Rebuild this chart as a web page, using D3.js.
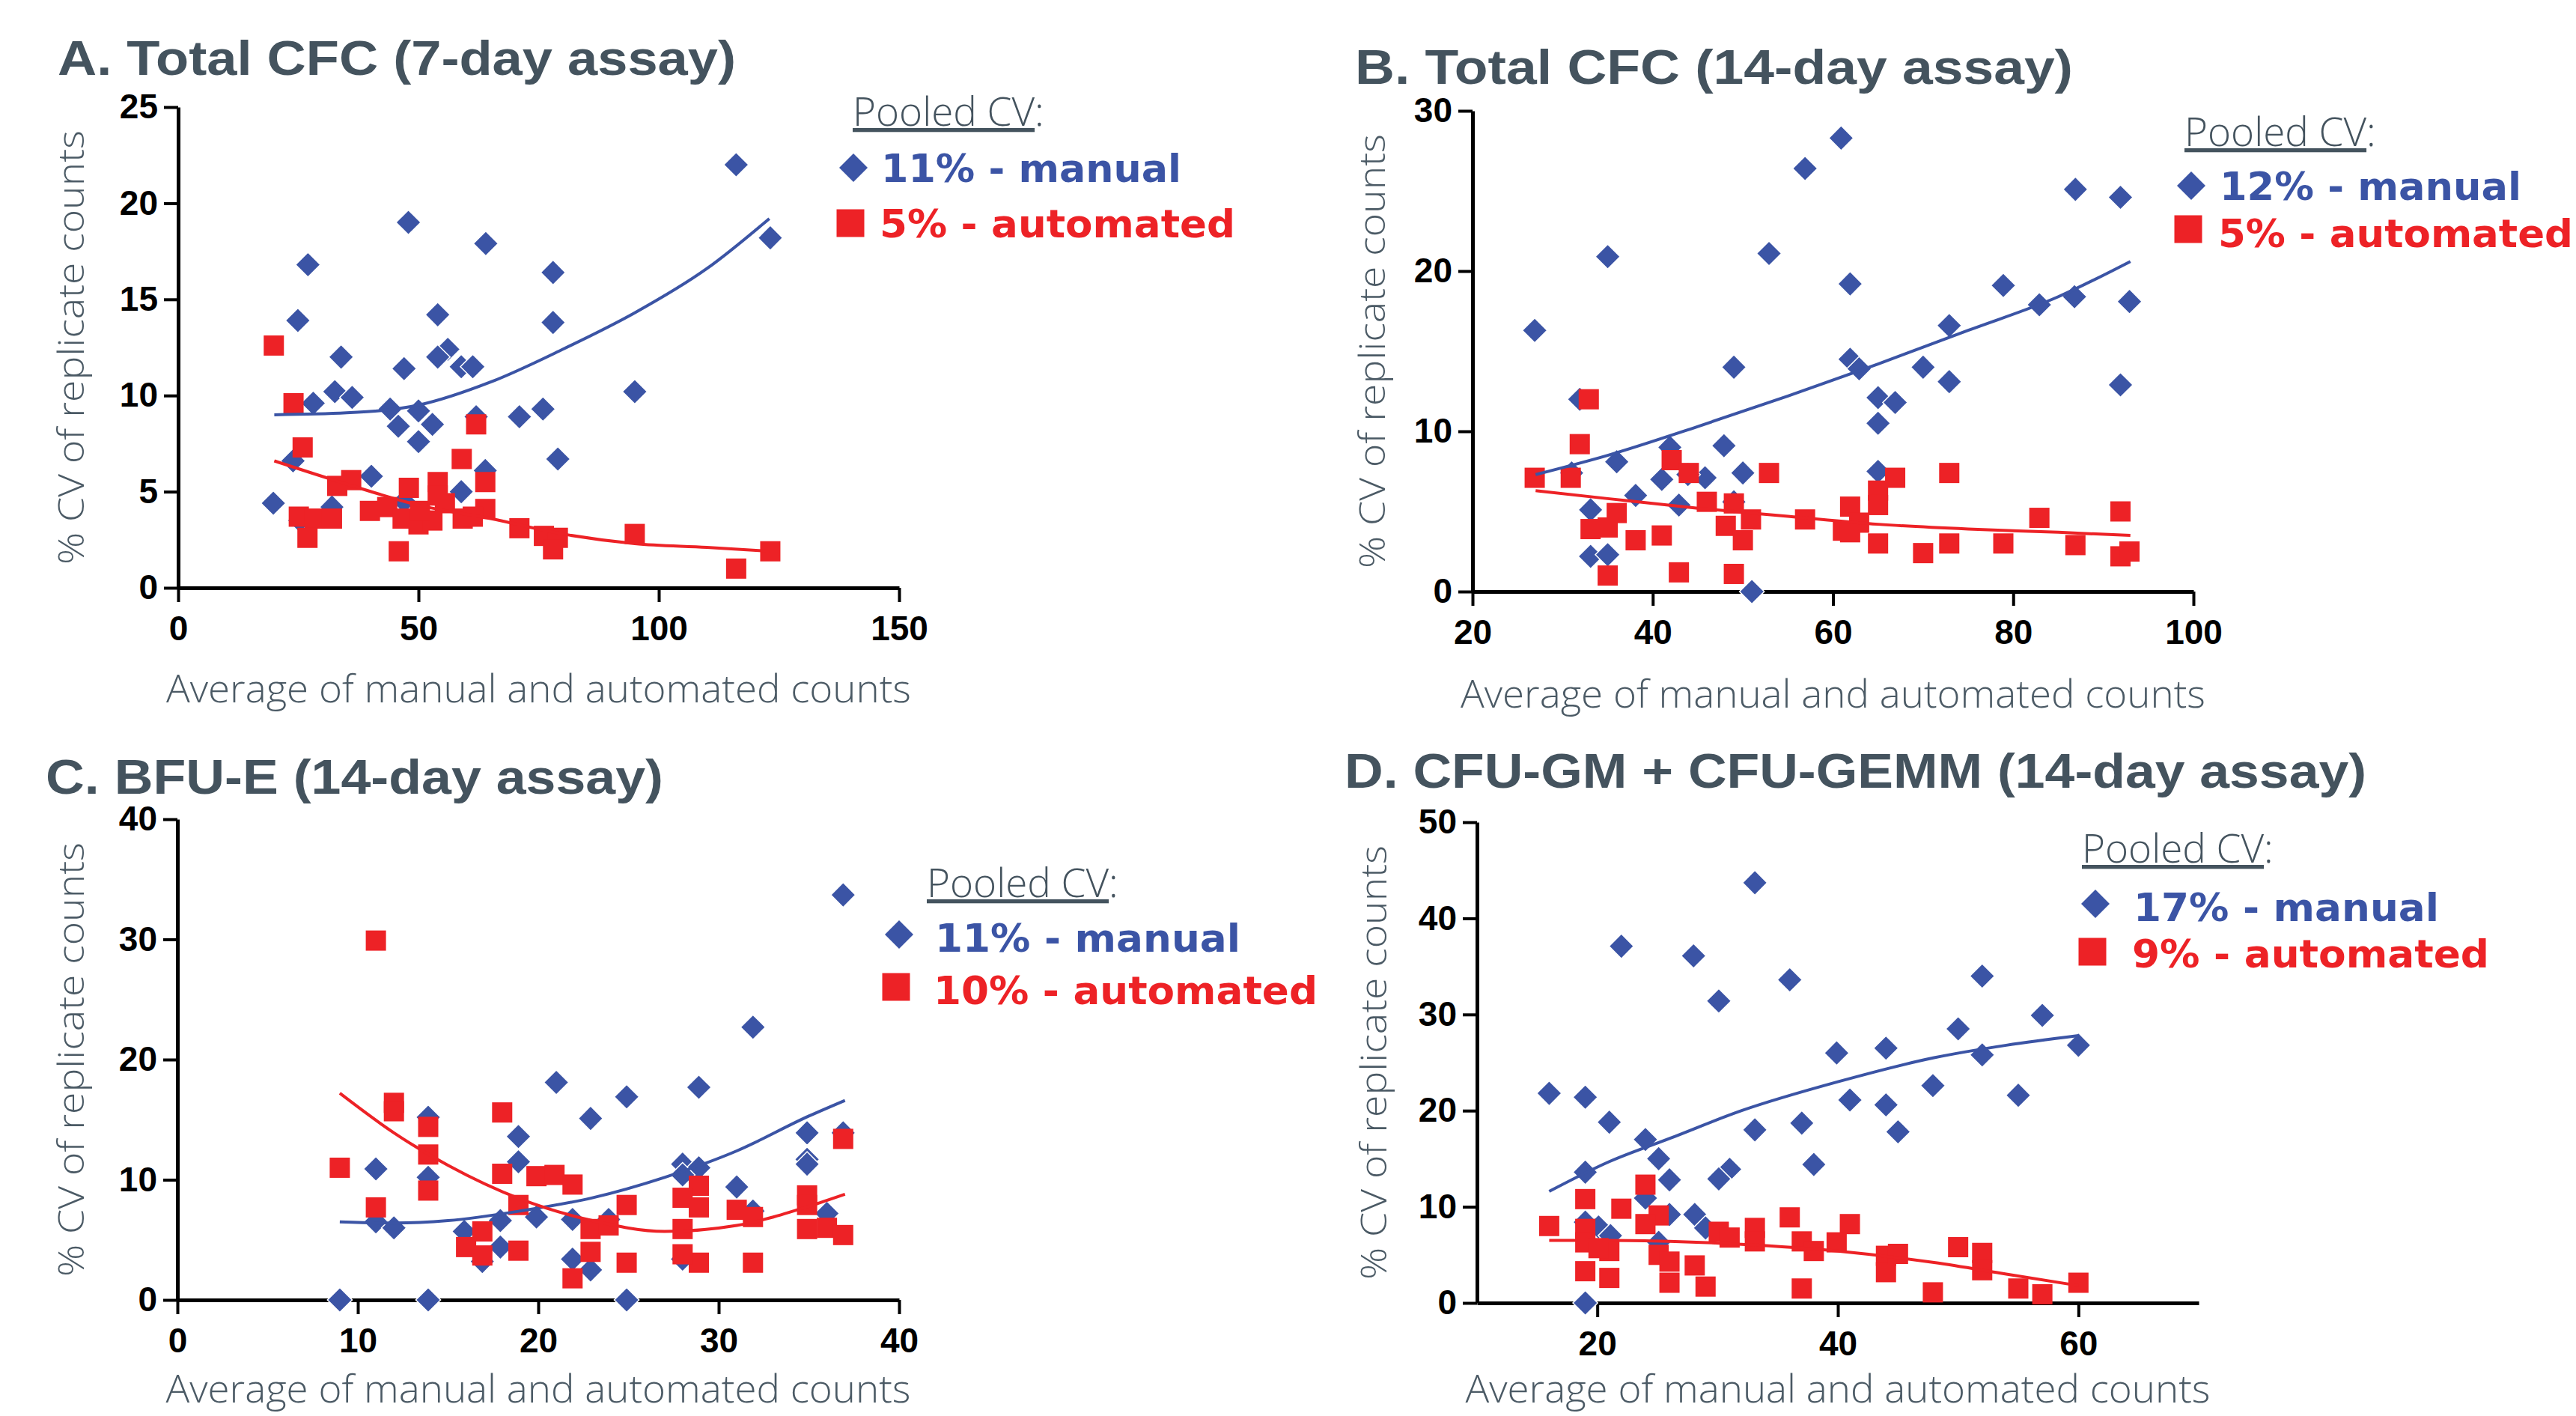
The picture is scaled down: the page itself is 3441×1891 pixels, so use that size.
<!DOCTYPE html>
<html>
<head>
<meta charset="utf-8">
<title>Pooled CV of replicate counts - manual vs automated</title>
<script src="https://cdn.jsdelivr.net/npm/d3@7"></script>
<style>
  body { margin: 0; background: #ffffff; }
  .tick text { font-family: "Liberation Sans Narrow", "Liberation Sans", Arial, sans-serif; font-weight: bold; font-size: 46px; fill: #000; }
  .domain { stroke: #000; stroke-width: 5px; }
  .tick line { stroke: #000; stroke-width: 4px; }
  .ptitle { font-family: "Liberation Sans Narrow", "Liberation Sans", Arial, sans-serif; font-weight: bold; font-size: 64px; fill: #44535e; }
  .alabel { font-family: "Open Sans", Lato, sans-serif; font-weight: 300; font-size: 52px; fill: #4b5a65; }
  .pooled { font-family: "Open Sans", Lato, sans-serif; font-weight: 300; font-size: 53px; fill: #44535e; }
  .legtxt { font-family: "DejaVu Sans", sans-serif; font-weight: bold; font-size: 52px; }
</style>
</head>
<body>
<svg id="chart" width="3441" height="1891"></svg>
<script>
// colours
var BLUE = "#3b54a5", RED = "#ed2226";

// ---- A. Total CFC (7-day assay)
var aManualX = [116.1,123.2,47.9,64.0,27.0,78.0,24.9,54.0,78.0,33.9,56.1,54.0,47.0,58.9,61.3,32.6,36.2,28.1,95.0,44.1,50.0,45.8,52.9,62.0,71.0,75.9,50.0,79.0,23.9,40.2,58.9,63.9,19.8,32.0,47.0,25.3];
var aManualY = [22.0,18.2,19.0,17.9,16.8,16.4,13.9,14.2,13.8,12.0,12.4,12.0,11.4,11.5,11.5,10.2,9.9,9.6,10.2,9.3,9.2,8.4,8.5,8.9,8.9,9.3,7.6,6.7,6.6,5.8,5.0,6.1,4.4,4.2,4.5,3.5];
var aAutoX = [19.9,24.0,25.9,62.0,59.0,63.9,54.0,48.0,36.0,33.1,55.5,63.9,39.9,43.5,25.1,28.4,32.0,46.7,50.0,52.9,59.2,61.3,26.9,71.0,76.1,79.0,78.0,95.0,45.9,116.1,123.2,50.3,54.0];
var aAutoY = [12.6,9.6,7.3,8.5,6.7,5.5,5.5,5.2,5.6,5.3,4.4,4.1,4.0,4.2,3.7,3.6,3.6,3.6,3.3,3.5,3.6,3.7,2.6,3.1,2.7,2.6,2.0,2.8,1.9,1.0,1.9,4.0,4.8];
var aFitX = [20,35,50,65,80,95,110,123];
var aFitManual = [9.0,9.1,9.5,10.7,12.4,14.3,16.6,19.2];
var aFitAuto = [6.6,5.4,4.3,3.6,2.8,2.3,2.1,1.9];
var aXTicks = [0,50,100,150];
var aYTicks = [0,5,10,15,20,25];

// ---- B. Total CFC (14-day assay)
var bManualX = [60.9,56.9,86.9,91.9,35.0,52.9,61.9,78.9,82.9,86.8,92.9,26.9,72.9,61.9,62.9,49.0,70.0,72.9,91.9,65.0,66.9,31.9,65.0,47.9,41.9,36.0,31.0,50.0,45.8,41.0,43.9,65.0,38.1,42.9,49.0,33.1,33.1,35.0,51.0];
var bManualY = [28.3,26.4,25.1,24.6,20.9,21.1,19.2,19.1,17.9,18.4,18.1,16.3,16.6,14.5,13.9,14.0,14.0,13.1,12.9,12.1,11.8,12.0,10.5,9.1,9.0,8.1,7.4,7.4,7.1,7.0,7.3,7.5,6.0,5.4,5.6,5.1,2.2,2.3,0.0];
var bAutoX = [32.9,31.9,26.9,30.9,42.1,44.0,52.9,72.9,66.9,65.0,65.0,61.9,36.0,46.0,49.0,33.1,35.0,48.1,50.9,56.9,62.9,61.1,61.9,82.9,91.9,38.1,41.0,50.0,65.0,72.9,78.9,86.9,70.0,91.9,92.9,35.0,42.9,49.0];
var bAutoY = [12.0,9.2,7.1,7.1,8.2,7.4,7.4,7.4,7.1,6.3,5.4,5.3,4.9,5.6,5.5,3.9,4.0,4.1,4.5,4.5,4.3,3.8,3.7,4.6,5.0,3.2,3.5,3.2,3.0,3.0,3.0,2.9,2.4,2.2,2.5,1.0,1.2,1.1];
var bFitX = [27,35,45,55,65,75,85,93];
var bFitManual = [7.3,8.5,10.3,12.2,14.2,16.3,18.4,20.6];
var bFitAuto = [6.3,5.8,5.2,4.7,4.2,3.9,3.7,3.5];
var bXTicks = [20,40,60,80,100];
var bYTicks = [0,10,20,30];

// ---- C. BFU-E (14-day assay)
var cManualX = [36.9,31.9,21.0,28.9,24.9,22.9,13.9,18.9,34.9,36.9,18.9,34.9,34.9,28.0,28.9,28.0,11.0,13.9,31.0,31.9,36.0,11.0,12.0,17.9,19.9,21.9,23.9,15.9,17.9,16.9,21.9,22.9,28.0,9.0,13.9,24.9];
var cManualY = [33.7,22.7,18.1,17.7,16.9,15.1,15.2,13.6,13.9,13.9,11.5,11.7,11.3,11.3,11.0,10.4,10.9,10.2,9.4,7.4,7.2,6.5,6.0,6.6,6.9,6.7,6.7,5.7,4.4,3.2,3.4,2.5,3.4,0,0,0];
var cAutoX = [11.0,12.0,12.0,18.0,13.9,13.9,36.9,9.0,18.0,19.9,20.9,21.9,28.9,13.9,11.0,18.9,24.9,28.0,28.9,31.0,31.9,34.9,34.9,16.9,22.9,23.9,28.0,34.9,36.0,36.9,16.0,18.9,16.9,22.9,24.9,28.9,31.9,21.9,28.0];
var cAutoY = [29.9,16.4,15.7,15.6,14.4,12.1,13.4,11.0,10.5,10.3,10.4,9.6,9.5,9.1,7.7,7.9,7.9,8.5,7.7,7.5,6.9,8.7,7.9,5.7,5.9,6.2,5.9,5.9,6.0,5.4,4.4,4.1,3.7,4.0,3.1,3.1,3.1,1.8,3.8];
var cFitX = [9,12,15,19,23,27,31,35,37];
var cFitManual = [6.5,6.4,6.6,7.4,8.5,10.2,12.4,15.3,16.6];
var cFitAuto = [17.2,13.9,11.2,8.4,6.6,5.7,6.2,7.8,8.8];
var cXTicks = [0,10,20,30,40];
var cYTicks = [0,10,20,30,40];

// ---- D. CFU-GM + CFU-GEMM (14-day assay)
var dManualX = [33.1,22.0,28.0,36.0,52.0,30.1,57.0,50.0,60.0,39.9,44.0,52.0,47.9,55.0,16.0,19.0,41.0,44.0,21.0,37.0,33.1,45.0,24.0,25.1,38.0,19.0,26.0,31.0,30.1,24.0,26.0,28.1,19.0,20.1,21.1,29.0,25.1,19.0];
var dManualY = [43.7,37.1,36.1,33.6,34.0,31.4,29.9,28.5,26.8,26.0,26.5,25.8,22.6,21.6,21.8,21.4,21.1,20.6,18.8,18.7,18.0,17.8,17.0,15.0,14.4,13.6,12.8,13.9,12.9,10.9,9.2,9.2,8.4,7.9,7.0,7.8,6.3,0];
var dAutoX = [24.0,19.0,22.0,25.1,36.0,41.0,16.0,24.0,19.0,30.1,31.0,33.1,33.1,37.0,38.0,39.9,50.0,52.0,52.0,44.0,44.0,45.0,19.0,21.0,25.1,26.0,28.1,19.0,21.0,26.0,29.0,37.0,47.9,55.0,57.0,60.0,20.1];
var dAutoY = [12.3,10.8,9.8,9.1,8.9,8.2,8.0,8.2,7.7,7.4,6.8,7.8,6.4,6.4,5.4,6.3,5.8,5.2,3.4,4.9,3.2,5.1,6.3,5.4,5.0,4.3,3.9,3.3,2.6,2.1,1.7,1.5,1.1,1.5,0.9,2.1,5.7];
var dFitX = [16,21,26,32,40,48,54,60];
var dFitManual = [11.6,14.7,17.1,20.0,23.0,25.5,26.8,27.8];
var dFitAuto = [6.5,6.5,6.4,6.1,5.4,4.2,3.0,1.8];
var dXTicks = [20,40,60];
var dYTicks = [0,10,20,30,40,50];

// titles / legend text
var titles = ["A. Total CFC (7-day assay)", "B. Total CFC (14-day assay)", "C. BFU-E (14-day assay)", "D. CFU-GM + CFU-GEMM (14-day assay)"];
var manualCV = ["11%", "12%", "11%", "17%"];
var autoCV = ["5%", "5%", "10%", "9%"];

function zip(xs, ys) { return xs.map(function(v, i) { return [v, ys[i]]; }); }

// layout of each panel (pixel positions on the page)
var panels = [
  { title: titles[0], xDomain: [0,150], yDomain: [0,25], left: 238, right: 1201, top: 143, bottom: 785,
    xTicks: aXTicks, yTicks: aYTicks, manual: zip(aManualX, aManualY), auto: zip(aAutoX, aAutoY),
    fitManual: zip(aFitX, aFitManual), fitAuto: zip(aFitX, aFitAuto),
    tx: 77, ty: 100, tw: 906, xLabY: 938, yLabX: 112,
    lg: { px: 1139, py: 168, mx: 1140, my: 224, tx: 1177, t1: 243, t2: 317, sy: 298, w1: 401, w2: 475 } },
  { title: titles[1], xDomain: [20,100], yDomain: [0,30], left: 1967, right: 2930, top: 148, bottom: 790,
    xTicks: bXTicks, yTicks: bYTicks, manual: zip(bManualX, bManualY), auto: zip(bAutoX, bAutoY),
    fitManual: zip(bFitX, bFitManual), fitAuto: zip(bFitX, bFitAuto),
    tx: 1810, ty: 112, tw: 959, xLabY: 945, yLabX: 1850,
    lg: { px: 2918, py: 195, mx: 2927, my: 248, tx: 2965, t1: 267, t2: 330, sy: 306, w1: 403, w2: 474 } },
  { title: titles[2], xDomain: [0,40], yDomain: [0,40], left: 237, right: 1201, top: 1094, bottom: 1736,
    xTicks: cXTicks, yTicks: cYTicks, manual: zip(cManualX, cManualY), auto: zip(cAutoX, cAutoY),
    fitManual: zip(cFitX, cFitManual), fitAuto: zip(cFitX, cFitAuto),
    tx: 61, ty: 1060, tw: 825, xLabY: 1873, yLabX: 112,
    lg: { px: 1238, py: 1198, mx: 1201, my: 1248, tx: 1249, t1: 1271, t2: 1341, sy: 1318, w1: 408, w2: 513 } },
  { title: titles[3], xDomain: [10,70], yDomain: [0,50], left: 1973, right: 2937, top: 1098, bottom: 1740,
    xTicks: dXTicks, yTicks: dYTicks, manual: zip(dManualX, dManualY), auto: zip(dAutoX, dAutoY),
    fitManual: zip(dFitX, dFitManual), fitAuto: zip(dFitX, dFitAuto),
    tx: 1796, ty: 1052, tw: 1365, xLabY: 1873, yLabX: 1852,
    lg: { px: 2781, py: 1152, mx: 2799, my: 1207, tx: 2850, t1: 1230, t2: 1292, sy: 1271, w1: 408, w2: 477 } }
];

var svg = d3.select("#chart");
svg.append("rect").attr("width", 3441).attr("height", 1891).attr("fill", "#fff");

panels.forEach(function(p, i) {
  var g = svg.append("g");
  var x = d3.scaleLinear().domain(p.xDomain).range([p.left, p.right]);
  var y = d3.scaleLinear().domain(p.yDomain).range([p.bottom, p.top]);

  // title
  g.append("text").attr("class", "ptitle")
    .attr("x", p.tx).attr("y", p.ty)
    .attr("textLength", p.tw).attr("lengthAdjust", "spacingAndGlyphs")
    .text(p.title);

  // axes
  g.append("g")
    .attr("transform", "translate(0," + p.bottom + ")")
    .call(d3.axisBottom(x).tickValues(p.xTicks).tickSize(19).tickPadding(18).tickSizeOuter(0));
  g.append("g")
    .attr("transform", "translate(" + p.left + ",0)")
    .call(d3.axisLeft(y).tickValues(p.yTicks).tickSize(19).tickPadding(8).tickSizeOuter(0));

  // axis titles
  g.append("text").attr("class", "alabel")
    .attr("x", (p.left + p.right) / 2).attr("y", p.xLabY)
    .attr("text-anchor", "middle")
    .attr("textLength", 995).attr("lengthAdjust", "spacingAndGlyphs")
    .text("Average of manual and automated counts");
  g.append("text").attr("class", "alabel")
    .attr("transform", "translate(" + p.yLabX + "," + (p.top + p.bottom) / 2 + ") rotate(-90)")
    .attr("text-anchor", "middle")
    .style("font-size", "48px")
    .attr("textLength", 580).attr("lengthAdjust", "spacingAndGlyphs")
    .text("% CV of replicate counts");

  // points
  var diamond = d3.symbol().type(d3.symbolDiamond2).size(700);
  var square = d3.symbol().type(d3.symbolSquare).size(729);
  g.append("g").selectAll("path")
    .data(p.manual).enter().append("path")
    .attr("d", diamond)
    .attr("transform", function(d) { return "translate(" + x(d[0]) + "," + y(d[1]) + ")"; })
    .attr("fill", BLUE).attr("stroke", "#fff").attr("stroke-width", 1.5);
  g.append("g").selectAll("path")
    .data(p.auto).enter().append("path")
    .attr("d", square)
    .attr("transform", function(d) { return "translate(" + x(d[0]) + "," + y(d[1]) + ")"; })
    .attr("fill", RED);

  // fitted curves
  var line = d3.line()
    .x(function(d) { return x(d[0]); })
    .y(function(d) { return y(d[1]); })
    .curve(d3.curveMonotoneX);
  g.append("path").datum(p.fitManual)
    .attr("fill", "none").attr("stroke", BLUE).attr("stroke-width", 4).attr("d", line);
  g.append("path").datum(p.fitAuto)
    .attr("fill", "none").attr("stroke", RED).attr("stroke-width", 4).attr("d", line);

  // legend
  var L = p.lg;
  var pooled = g.append("text").attr("class", "pooled").attr("x", L.px).attr("y", L.py);
  pooled.append("tspan").attr("text-decoration", "underline").text("Pooled CV");
  pooled.append("tspan").text(":");
  g.append("path")
    .attr("d", d3.symbol().type(d3.symbolDiamond2).size(920))
    .attr("transform", "translate(" + L.mx + "," + L.my + ")")
    .attr("fill", BLUE);
  g.append("path")
    .attr("d", d3.symbol().type(d3.symbolSquare).size(1369))
    .attr("transform", "translate(" + (L.mx - 4) + "," + L.sy + ")")
    .attr("fill", RED);
  g.append("text").attr("class", "legtxt").attr("fill", BLUE)
    .attr("x", L.tx).attr("y", L.t1)
    .attr("textLength", L.w1).attr("lengthAdjust", "spacingAndGlyphs")
    .text(manualCV[i] + " - manual");
  g.append("text").attr("class", "legtxt").attr("fill", RED)
    .attr("x", L.tx - 2).attr("y", L.t2)
    .attr("textLength", L.w2).attr("lengthAdjust", "spacingAndGlyphs")
    .text(autoCV[i] + " - automated");
});
</script>
</body>
</html>
